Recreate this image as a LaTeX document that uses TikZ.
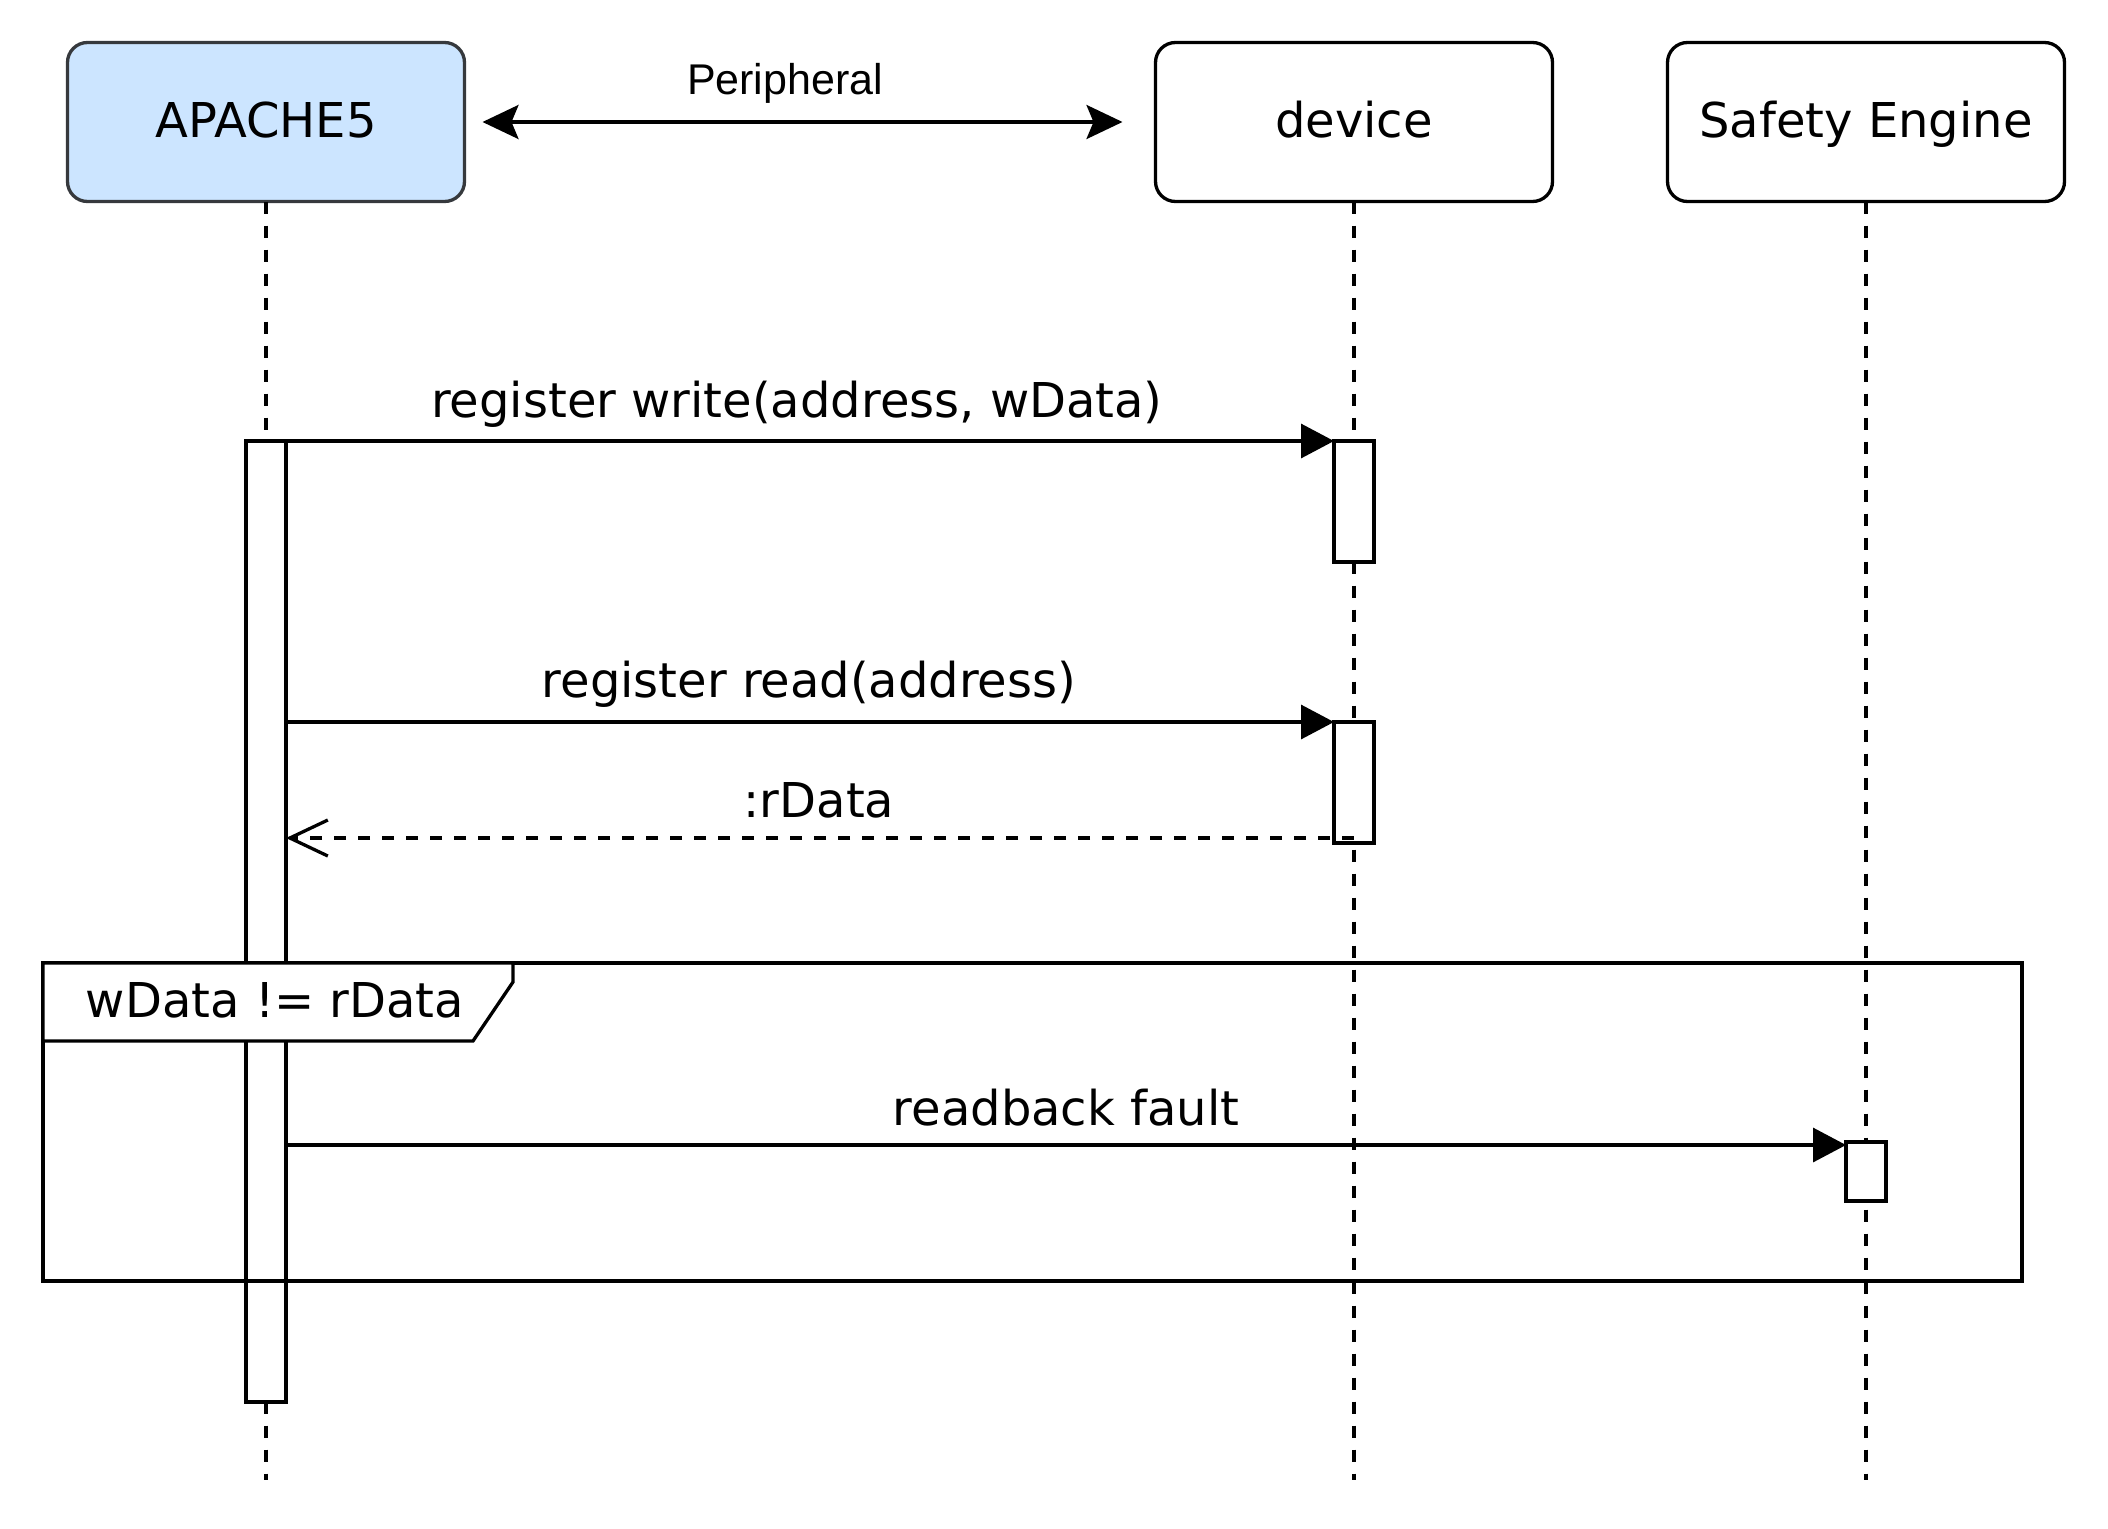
\documentclass[tikz,border=0pt]{standalone}
\usepackage{fontspec}
\setmainfont{DejaVu Sans}
\newfontfamily\arialfont{Liberation Sans}
\usetikzlibrary{arrows.meta}
\begin{document}
\begin{tikzpicture}[x=1pt,y=-1pt,line width=3.3pt,
  actor/.style={draw=black,fill=white,rounded corners=20pt,minimum width=397pt,minimum height=159pt,
    inner sep=0pt,outer sep=0pt,text height=36pt,text depth=6pt,font=\fontsize{48}{58}\selectfont},
  lifeline/.style={dash pattern=on 12pt off 12pt},
  act/.style={draw=black,fill=white,minimum width=40pt,inner sep=0pt,outer sep=0pt},
  msg/.style={-{Triangle[length=33pt,width=34pt]}},
  ret/.style={dash pattern=on 12pt off 12pt,-{Straight Barb[length=38pt,width=36pt]}},
  lbl/.style={inner sep=0pt,font=\fontsize{48}{58}\selectfont},
  frm/.style={draw=black,inner sep=0pt,outer sep=0pt}
]
\useasboundingbox (0,0) rectangle (2108,1528);

% participants
\node[actor,fill={rgb,255:red,204;green,229;blue,255},draw={rgb,255:red,54;green,57;blue,61}] (apache) at (266,122) {APACHE5};
\node[actor] (device) at (1354,122) {device};
\node[actor] (safety) at (1866,122) {Safety Engine};

% lifeline ends
\coordinate (endA) at (266,1480);
\coordinate (endD) at (1354,1480);
\coordinate (endS) at (1866,1480);
\draw[lifeline] (apache.south) -- (endA);
\draw[lifeline] (device.south) -- (endD);
\draw[lifeline] (safety.south) -- (endS);

% peripheral link
\draw[{Stealth[length=36pt,width=34pt,inset=7pt]}-{Stealth[length=36pt,width=34pt,inset=7pt]},
  shorten <=18pt,shorten >=33pt] (apache.east) -- (device.west);
\node[inner sep=0pt,font=\arialfont\fontsize{43}{50}\selectfont] (periph) at (785,83) {Peripheral};

% activation bars
\node[act,minimum height=961pt] (a1) at (266,921.5) {};
\node[act,minimum height=121pt] (d1) at (1354,501.5) {};
\node[act,minimum height=121pt] (d2) at (1354,782.5) {};
\node[act,minimum height=59pt] (s1) at (1866,1171.5) {};

% messages
\draw[msg] (a1.east |- d1.north) -- (d1.north west);
\node[lbl] (l1) at (797,404) {register write(address, wData)};

\draw[msg] (a1.east |- d2.north) -- (d2.north west);
\node[lbl] (l2) at (809,684) {register read(address)};

\coordinate (r0) at (1354,838);
\draw[ret] (r0) -- (a1.east |- r0);
\node[lbl] (l3) at (819,800) {:rData};

% alt frame
\node[frm,minimum width=1979pt,minimum height=318pt,anchor=north west] (frame) at (43,963) {};
\coordinate (p1) at (513,963);
\coordinate (p2) at (513,982);
\coordinate (p3) at (473,1041);
\coordinate (p4) at (43,1041);
\draw[fill=white] (frame.north west) -- (p1) -- (p2) -- (p3) -- (p4) -- cycle;
\node[lbl] (cond) at (275,1000) {wData != rData};

\coordinate (m3) at (0,1145);
\draw[msg] (a1.east |- m3) -- (s1.west |- m3);
\node[lbl] (l4) at (1066,1108) {readback fault};
\end{tikzpicture}
\end{document}
